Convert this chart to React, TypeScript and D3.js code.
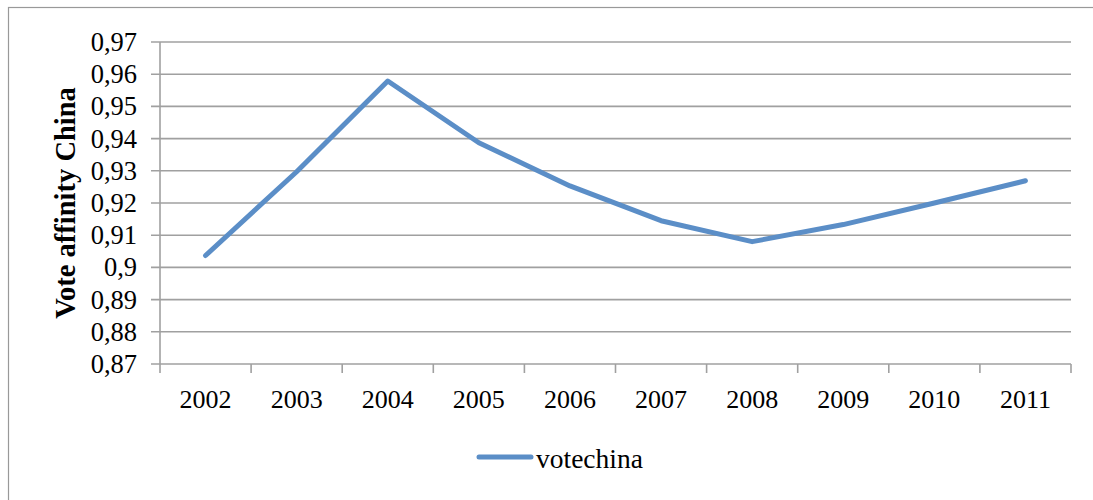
import React from "react";
import * as d3 from "d3";

const years = ["2002", "2003", "2004", "2005", "2006", "2007", "2008", "2009", "2010", "2011"];
const votechina = [0.9037, 0.9297, 0.9579, 0.9387, 0.9253, 0.9145, 0.908, 0.9133, 0.92, 0.9269];
const yTicks = [0.87, 0.88, 0.89, 0.9, 0.91, 0.92, 0.93, 0.94, 0.95, 0.96, 0.97];

const width = 1093;
const height = 500;
const margin = { top: 42, right: 22, bottom: 136, left: 160 };
const font = "'Liberation Serif', 'Times New Roman', serif";
const grid = "#a0a0a0";
const lineColor = "#5b8ec7";

const App: React.FC = () => {
  const x = d3
    .scaleBand<string>()
    .domain(years)
    .range([margin.left, width - margin.right]);

  const y = d3
    .scaleLinear()
    .domain([0.87, 0.97])
    .range([height - margin.bottom, margin.top]);

  const line = d3
    .line<number>()
    .x((d, i) => (x(years[i]) as number) + x.bandwidth() / 2)
    .y((d) => y(d));

  const fmt = (v: number) => String(+v.toFixed(2)).replace(".", ",");
  const x0 = margin.left;
  const x1 = width - margin.right;
  const yBase = y(0.87);

  return (
    <svg
      width={width}
      height={height}
      style={{ position: "absolute", left: 0, top: 0, background: "#fff" }}
    >
      <rect x={8.5} y={7.5} width={1200} height={600} fill="#fff" stroke="#999" strokeWidth={1.2} />

      {yTicks.map((t) => (
        <g key={t}>
          <line x1={x0 - 9} x2={x1} y1={y(t)} y2={y(t)} stroke={grid} strokeWidth={1.6} />
          <text
            x={137}
            y={y(t)}
            textAnchor="end"
            dominantBaseline="central"
            fontFamily={font}
            fontSize={26.5}
            fill="#000"
          >
            {fmt(t)}
          </text>
        </g>
      ))}

      <line x1={x0} x2={x0} y1={margin.top} y2={yBase + 9} stroke={grid} strokeWidth={1.6} />

      {years.map((yr) => (
        <g key={yr}>
          <line
            x1={(x(yr) as number) + x.bandwidth()}
            x2={(x(yr) as number) + x.bandwidth()}
            y1={yBase}
            y2={yBase + 9}
            stroke={grid}
            strokeWidth={1.6}
          />
          <text
            x={(x(yr) as number) + x.bandwidth() / 2}
            y={408}
            textAnchor="middle"
            fontFamily={font}
            fontSize={26}
            fill="#000"
          >
            {yr}
          </text>
        </g>
      ))}

      <path
        d={line(votechina) ?? ""}
        fill="none"
        stroke={lineColor}
        strokeWidth={5}
        strokeLinecap="round"
        strokeLinejoin="round"
      />

      <text
        transform={`translate(75,203) rotate(-90)`}
        textAnchor="middle"
        fontFamily={font}
        fontSize={28.5}
        fontWeight="bold"
        fill="#000"
      >
        Vote affinity China
      </text>

      <line x1={479} x2={531} y1={457} y2={457} stroke={lineColor} strokeWidth={5} strokeLinecap="round" />
      <text x={536} y={468} fontFamily={font} fontSize={27.5} fill="#000">
        votechina
      </text>
    </svg>
  );
};

export default App;
